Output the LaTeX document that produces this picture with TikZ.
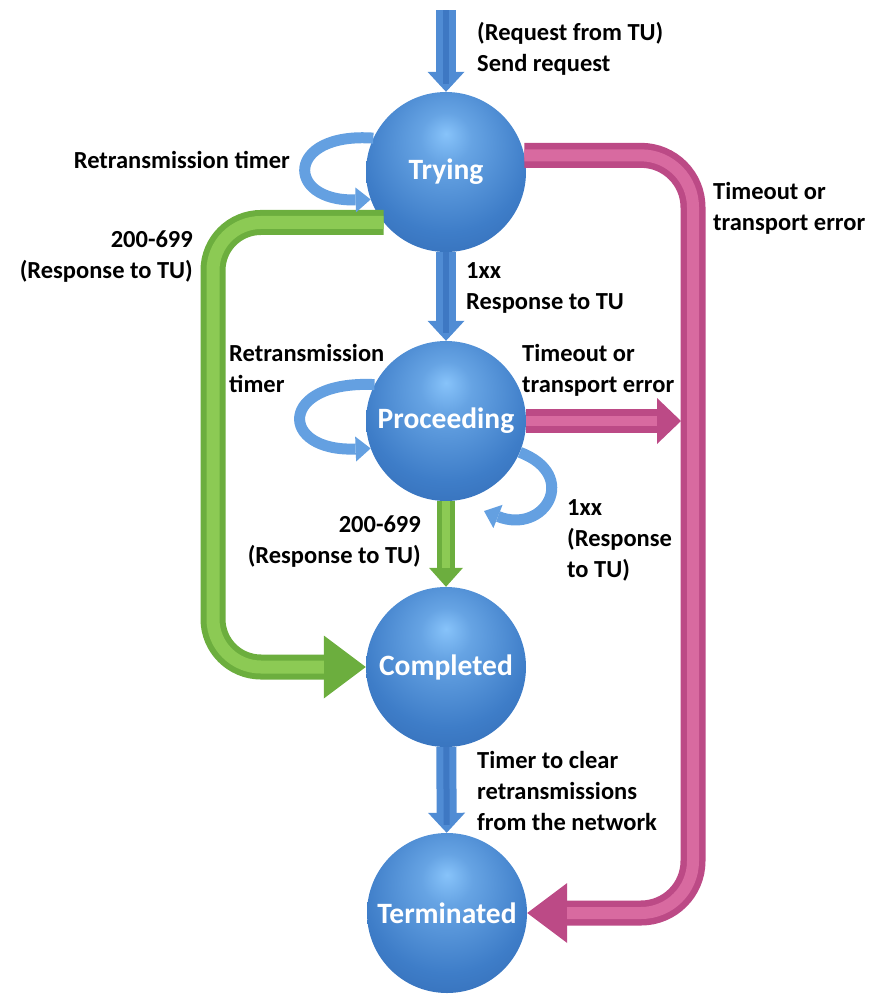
\documentclass[tikz,border=0pt]{standalone}
\usepackage{fontspec}
\setmainfont{Carlito}
\usetikzlibrary{arrows.meta}
\definecolor{sphC}{RGB}{135,195,250}
\definecolor{sphM}{RGB}{62,125,200}
\definecolor{sphE}{RGB}{40,90,162}
\definecolor{arB}{RGB}{80,140,212}
\definecolor{arBd}{RGB}{62,120,195}
\definecolor{loopB}{RGB}{100,160,225}
\definecolor{grD}{RGB}{108,174,62}
\definecolor{grL}{RGB}{140,202,84}
\definecolor{pkD}{RGB}{188,74,134}
\definecolor{pkL}{RGB}{216,106,160}
\pgfdeclareradialshading{sphereshade}{\pgfpoint{0bp}{12bp}}{color(0bp)=(sphC); color(8bp)=(sphC!55!sphM); color(26bp)=(sphM); color(50bp)=(sphE); color(64bp)=(sphE!85!black)}
\tikzset{
  sphere/.style={circle, minimum size=160pt, inner sep=0pt, shading=sphereshade, text=white, font=\bfseries\fontsize{29.5}{31}\selectfont},
  lbl/.style={font=\bfseries\fontsize{24.5}{31}\selectfont, inner sep=0pt, align=left, text=black},
  lblr/.style={lbl, align=right},
  bluearr/.style={draw=arB, line width=20pt, -{Triangle[width=37pt,length=20pt,line width=0pt]},
    postaction={draw=arBd, line width=6pt, -, shorten >=8pt}},
  greenbig/.style={draw=grD, line width=25pt, rounded corners=48pt, -{Triangle[width=63pt,length=42pt,line width=0pt]},
    postaction={draw=grL, line width=13pt, -, shorten >=42pt}},
  greensm/.style={draw=grD, line width=18pt, -{Triangle[width=34pt,length=19pt,line width=0pt]},
    postaction={draw=grL, line width=8pt, -, shorten >=19pt}},
  pinkbig/.style={draw=pkD, line width=25pt, rounded corners=52pt, -{Triangle[width=60pt,length=40pt,line width=0pt]},
    postaction={draw=pkL, line width=12pt, -, shorten >=40pt}},
  pinksm/.style={draw=pkD, line width=24pt, -{Triangle[width=46pt,length=24pt,line width=0pt]},
    postaction={draw=pkL, line width=10pt, -, shorten >=24pt}},
  loopar/.style={draw=loopB, line width=11pt, -{Triangle[width=25pt,length=15pt,line width=0pt]}},
}
\begin{document}
\begin{tikzpicture}[x=1pt,y=-1pt]
\useasboundingbox (0,0) rectangle (870,994);
% states
\node[sphere] (trying) at (446,172) {Trying};
\node[sphere] (proceeding) at (446,421) {Proceeding};
\node[sphere] (completed) at (446,667) {Completed};
\node[sphere] (terminated) at (447,913) {Terminated};
% free ends
\coordinate (start) at (446,10);
\coordinate (gcol) at (213,400);
\coordinate (pcol) at (693,500);
\coordinate (pkhit) at (681,421);
\coordinate (rloopend) at (484,511);
% straight arrows
\draw[bluearr] (start) -- (trying);
\draw[bluearr] (trying) -- (proceeding);
\draw[greensm] (proceeding) -- (completed);
\draw[bluearr] (completed) -- (terminated);
% long arrows
\draw[greenbig] (trying.219) -| (gcol) |- (completed);
\draw[pinkbig] (trying.12) -| (pcol) |- (terminated);
\draw[pinksm] (proceeding.east) -- (pkhit);
% self loops
\draw[loopar] (trying.155) .. controls (285,132) and (285,202) .. (trying.200);
\draw[loopar] (proceeding.153) .. controls (278,380) and (278,452) .. (proceeding.200);
\draw[loopar] (proceeding.-23) .. controls (580,475) and (545,535) .. (rloopend);
% labels
\node[lbl, anchor=north west] (l1) at (477,22) {(Request from TU)\\Send request};
\node[lblr, anchor=north east] (l2) at (290,151) {Retransmission timer};
\node[lblr, anchor=north east] (l3) at (193,231) {200-699\\(Response to TU)};
\node[lbl, anchor=north west] (l4) at (466,262) {1xx\\Response to TU};
\node[lbl, anchor=north west] (l5) at (229,344) {Retransmission\\timer};
\node[lbl, anchor=north west] (l6) at (522,344) {Timeout or\\transport error};
\node[lbl, anchor=north west] (l7) at (713,182) {Timeout or\\transport error};
\node[lbl, anchor=north west] (l8) at (567,499) {1xx\\(Response\\to TU)};
\node[lblr, anchor=north east] (l9) at (421,516) {200-699\\(Response to TU)};
\node[lbl, anchor=north west] (l10) at (477,751) {Timer to clear\\retransmissions\\from the network};
\end{tikzpicture}
\end{document}
